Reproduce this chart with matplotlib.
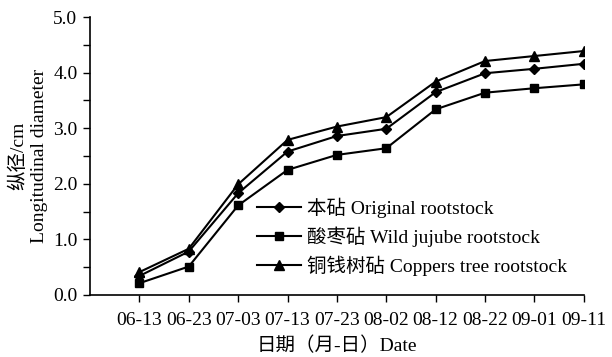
import numpy as np
import matplotlib
matplotlib.use('Agg')
import matplotlib.pyplot as plt
from matplotlib.ticker import MultipleLocator, FormatStrFormatter

plt.rcParams['font.family'] = ['Liberation Serif', 'Noto Sans CJK SC']
plt.rcParams['font.size'] = 14

#sampling dates
dates = ['06-13', '06-23', '07-03', '07-13', '07-23',
         '08-02', '08-12', '08-22', '09-01', '09-11']

#longitudinal diameter (cm) of each rootstock
original = [0.34, 0.78, 1.83, 2.58, 2.86, 2.99, 3.65, 3.99, 4.07, 4.16]
wild_jujube = [0.21, 0.51, 1.61, 2.25, 2.52, 2.64, 3.34, 3.64, 3.72, 3.79]
coppers_tree = [0.41, 0.83, 1.99, 2.79, 3.03, 3.20, 3.84, 4.21, 4.30, 4.39]

labels = ['本砧 Original rootstock',
          '酸枣砧 Wild jujube rootstock',
          '铜钱树砧 Coppers tree rootstock']

fig = plt.figure(figsize=(6.12, 3.57), dpi=100)
ax = fig.add_axes([0.147, 0.174, 0.807, 0.778])

x = np.arange(len(dates))
ax.plot(x, original, color='black', lw=1.5, marker='D', ms=5, label=labels[0])
ax.plot(x, wild_jujube, color='black', lw=1.5, marker='s', ms=6, label=labels[1])
ax.plot(x, coppers_tree, color='black', lw=1.5, marker='^', ms=7, label=labels[2])

ax.set_xlim(-1, 9)
ax.set_ylim(0, 5)
ax.set_xticks(x)
ax.set_xticklabels(dates)
ax.yaxis.set_major_locator(MultipleLocator(1.0))
ax.yaxis.set_minor_locator(MultipleLocator(0.5))
ax.yaxis.set_major_formatter(FormatStrFormatter('%.1f'))

for side in ['top', 'right']:
    ax.spines[side].set_visible(False)
for side in ['left', 'bottom']:
    ax.spines[side].set_linewidth(1.2)
ax.tick_params(which='both', direction='out', width=1.0, length=5)
ax.tick_params(axis='x', pad=7)
ax.tick_params(axis='y', pad=4)

#two-line y label, each line centred on the axis
ymid = 1 - 156 / 357
fig.text(18 / 612, ymid, '纵径/cm', rotation=90, ha='center', va='center',
         fontsize=14)
fig.text(40 / 612, ymid, 'Longitudinal diameter', rotation=90, ha='center',
         va='center', fontsize=14)
ax.set_xlabel('日期（月-日）Date', fontsize=14, labelpad=6)

ax.legend(loc='lower left', bbox_to_anchor=(0.322, 0.04), frameon=False,
          handlelength=2.3, handletextpad=0.3, labelspacing=0.45,
          fontsize=14, borderaxespad=0)

fig.savefig('out.png', dpi=100)
